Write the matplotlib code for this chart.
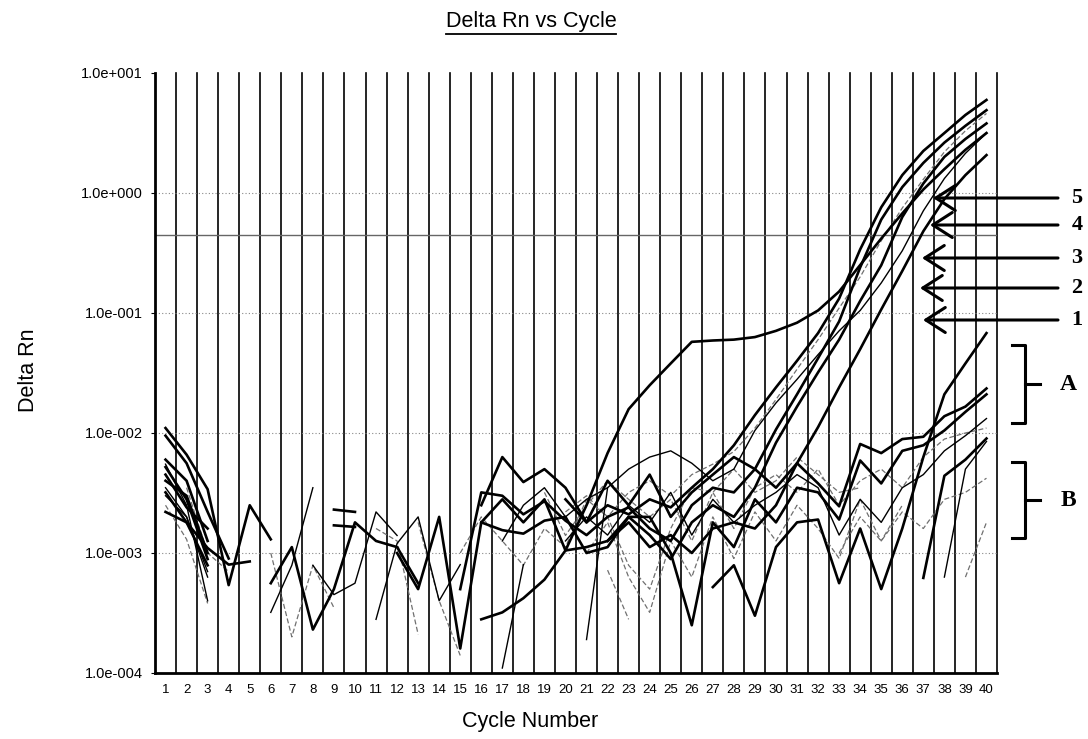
import numpy as np
import matplotlib
matplotlib.use("Agg")
import matplotlib.pyplot as plt
from matplotlib.lines import Line2D

nan = np.nan
cycles = np.arange(1, 41)

# Delta Rn per cycle (nan = no point drawn)
early = [1.1e-2, 6.6e-3, 3.4e-3, 5.4e-4, 2.5e-3, 1.3e-3, nan, nan, nan, nan,
         nan, nan, nan, nan, nan, 2.8e-4, 3.2e-4, 4.2e-4, 6.0e-4, 1.05e-3,
         2.5e-3, 6.8e-3, 1.58e-2, 2.5e-2, 3.8e-2, 5.75e-2, 5.9e-2, 6.0e-2, 6.3e-2, 7.1e-2,
         8.3e-2, 0.105, 0.151, 0.251, 0.417, 0.676, 1.07, 1.58, 2.29, 3.16]
amp1 = [6.0e-3, 4.0e-3, 1.26e-3, nan, nan, nan, nan, nan, nan, nan,
        nan, nan, nan, nan, nan, 2.5e-3, 6.3e-3, 3.9e-3, 5.0e-3, 3.5e-3,
        1.8e-3, 2.5e-3, 2.1e-3, 2.8e-3, 2.4e-3, 3.5e-3, 5.0e-3, 7.9e-3, 1.41e-2, 2.4e-2,
        4.0e-2, 6.8e-2, 0.132, 0.339, 0.76, 1.41, 2.24, 3.16, 4.47, 5.96]
amp2 = [5.2e-3, 2.8e-3, 8.9e-4, nan, nan, nan, nan, nan, nan, nan,
        nan, nan, nan, nan, 5.0e-4, 3.2e-3, 3.0e-3, 2.1e-3, 2.7e-3, 1.86e-3,
        1.41e-3, 2.0e-3, 2.4e-3, 1.6e-3, 1.26e-3, 2.5e-3, 3.5e-3, 3.2e-3, 5.0e-3, 1.07e-2,
        2.1e-2, 4.2e-2, 8.5e-2, 0.24, 0.60, 1.12, 1.78, 2.63, 3.63, 4.9]
amp3 = [4.5e-3, 2.4e-3, 1.6e-3, nan, nan, nan, nan, nan, nan, nan,
        nan, nan, nan, nan, nan, 1.8e-3, 1.55e-3, 1.45e-3, 1.86e-3, 2.0e-3,
        1.0e-3, 1.12e-3, 2.0e-3, 1.41e-3, 8.9e-4, 1.8e-3, 2.5e-3, 2.0e-3, 3.5e-3, 8.3e-3,
        1.66e-2, 3.2e-2, 6.0e-2, 0.126, 0.25, 0.63, 1.2, 2.0, 2.82, 3.8]
amp4 = [3.5e-3, 2.0e-3, 6.3e-4, nan, nan, nan, nan, nan, nan, nan,
        nan, nan, nan, nan, nan, nan, 1.26e-3, 2.5e-3, 3.5e-3, 2.0e-3,
        2.8e-3, 3.5e-3, 5.0e-3, 6.3e-3, 7.1e-3, 5.6e-3, 4.0e-3, 5.0e-3, 1.05e-2, 1.78e-2,
        2.8e-2, 4.5e-2, 7.1e-2, 0.105, 0.178, 0.33, 0.71, 1.32, 2.14, 3.16]
amp5 = [3.2e-3, 1.8e-3, 7.9e-4, nan, nan, nan, nan, nan, nan, nan,
        nan, 1.0e-3, 5.0e-4, 2.0e-3, 1.6e-4, 1.8e-3, 2.8e-3, 1.8e-3, 2.8e-3, 1.05e-3,
        1.12e-3, 1.26e-3, 1.8e-3, 1.12e-3, 1.41e-3, 1.0e-3, 1.6e-3, 1.8e-3, 1.6e-3, 2.5e-3,
        5.6e-3, 1.12e-2, 2.4e-2, 5.0e-2, 0.107, 0.224, 0.48, 0.89, 1.41, 2.07]
amp6 = [nan, nan, nan, nan, nan, nan, nan, nan, nan, nan,
        nan, nan, nan, nan, nan, nan, nan, nan, nan, 2.2e-3,
        3.0e-3, 2.0e-3, 3.2e-3, 4.0e-3, 3.0e-3, 4.5e-3, 5.5e-3, 7.0e-3, 1.1e-2, 1.9e-2,
        3.4e-2, 6.0e-2, 0.11, 0.2, 0.4, 0.75, 1.3, 2.2, 3.3, 4.6]

grpA1 = [2.2e-3, 1.8e-3, 1.1e-3, 8.0e-4, 8.5e-4, nan, nan, nan, nan, nan,
         nan, nan, nan, nan, nan, nan, nan, nan, nan, nan,
         nan, nan, nan, nan, nan, nan, 5.2e-4, 7.9e-4, 3.0e-4, 1.12e-3,
         1.8e-3, 1.9e-3, 5.6e-4, 1.6e-3, 5.0e-4, 1.6e-3, 6.3e-3, 2.1e-2, 3.8e-2, 6.8e-2]
grpA2 = [9.5e-3, 5.6e-3, 2.2e-3, 9.0e-4, nan, nan, nan, nan, nan, nan,
         nan, nan, nan, nan, nan, nan, nan, nan, nan, 2.8e-3,
         1.8e-3, 4.0e-3, 2.5e-3, 4.5e-3, 2.0e-3, 3.2e-3, 4.5e-3, 6.3e-3, 5.0e-3, 3.5e-3,
         5.6e-3, 3.8e-3, 2.45e-3, 8.1e-3, 6.8e-3, 8.9e-3, 9.3e-3, 1.38e-2, 1.66e-2, 2.35e-2]
grpA3 = [4.0e-3, 3.0e-3, 1.0e-3, nan, nan, nan, nan, nan, nan, nan,
         nan, nan, nan, nan, nan, nan, nan, nan, nan, nan,
         nan, 1.26e-3, 2.0e-3, 2.0e-3, 1.0e-3, 2.5e-4, 1.8e-3, 1.12e-3, 2.8e-3, 1.8e-3,
         3.5e-3, 3.2e-3, 1.9e-3, 5.9e-3, 3.8e-3, 7.1e-3, 7.9e-3, 1.05e-2, 1.5e-2, 2.1e-2]

grpB1 = [3.0e-3, 2.0e-3, 7.0e-4, nan, nan, nan, nan, nan, nan, nan,
         nan, nan, nan, nan, nan, nan, nan, nan, nan, 1.26e-3,
         2.0e-3, 1.41e-3, 2.5e-3, 1.8e-3, 3.2e-3, 1.41e-3, 2.8e-3, 1.8e-3, 2.5e-3, 3.2e-3,
         4.5e-3, 3.5e-3, 1.41e-3, 2.8e-3, 1.8e-3, 3.5e-3, 4.5e-3, 7.1e-3, 9.5e-3, 1.32e-2]
grpB2 = [2.5e-3, 1.3e-3, 3.8e-4, nan, nan, nan, nan, nan, nan, nan,
         nan, nan, nan, nan, 1.0e-3, 2.0e-3, 1.26e-3, 7.9e-4, 1.6e-3, 1.12e-3,
         2.8e-3, 2.0e-3, 7.9e-4, 5.0e-4, 1.6e-3, 3.5e-3, 3.2e-3, 1.6e-3, 3.5e-3, 4.5e-3,
         3.2e-3, 5.0e-3, 2.5e-3, 4.0e-3, 5.0e-3, 3.5e-3, 6.3e-3, 8.9e-3, 1.0e-2, 1.1e-2]
grpB3 = [nan] * 36 + [6.2e-4, 4.4e-3, 6.0e-3, 9.0e-3]
grpB4 = [nan] * 37 + [6.3e-4, 5.0e-3, 8.5e-3]
grpB5 = [nan] * 32 + [1.0e-3, 2.0e-3, 1.26e-3, 2.2e-3, 1.6e-3, 2.8e-3, 3.2e-3, 4.2e-3]
grpB6 = [nan] * 38 + [6.3e-4, 1.8e-3]

base1 = [nan] * 18 + [3.2e-3, 1.4e-3, 2.5e-3, 4.0e-3, 2.8e-3, 2.0e-3, 2.8e-3, 1.26e-3,
                      3.2e-3, 5.0e-3, 3.2e-3, 4.0e-3, 6.3e-3, 4.5e-3, 3.2e-3, 3.5e-3] + [nan] * 6
base2 = [nan] * 20 + [1.0e-3, 1.8e-3, 6.3e-4, 3.2e-4, 1.26e-3, 6.3e-4, 2.0e-3, 9.0e-4,
                      2.2e-3, 1.26e-3, 2.5e-3, 1.6e-3, 9.0e-4, 2.8e-3, 1.26e-3, 2.5e-3] + [nan] * 4

# short broken pieces, (first cycle, values)
frag_thick = [(6, [5.6e-4, 1.12e-3, 2.3e-4, 5.0e-4, 1.8e-3, 1.26e-3, 1.12e-3, 5.6e-4]),
              (9, [2.3e-3, 2.2e-3]),
              (9, [1.7e-3, 1.65e-3])]
frag_thin = [(6, [3.2e-4, 7.9e-4, 3.5e-3]),
             (8, [7.9e-4, 4.5e-4, 5.6e-4, 2.2e-3, 1.4e-3]),
             (11, [2.8e-4, 1.2e-3, 2.0e-3, 4.0e-4, 8.0e-4]),
             (17, [1.1e-4, 8.0e-4]),
             (21, [1.9e-4, 3.5e-3]),
             (1, [5.5e-3, 2.5e-3, 4.0e-4])]
frag_grey = [(6, [1.0e-3, 2.0e-4, 7.9e-4, 3.5e-4]),
             (11, [1.6e-3, 1.26e-3, 2.1e-4]),
             (13, [1.8e-3, 4.0e-4, 1.4e-4]),
             (22, [7.2e-4, 2.8e-4]),
             (2, [3.5e-3, 1.0e-3, 7.0e-4])]

threshold = 0.447
ytick_vals = [1e-4, 1e-3, 1e-2, 1e-1, 1e0, 1e1]
ytick_text = ["1.0e-004", "1.0e-003", "1.0e-002", "1.0e-001", "1.0e+000", "1.0e+001"]
arrow_labels = ["5", "4", "3", "2", "1"]

W, H = 1088, 739
fig = plt.figure(figsize=(W / 100, H / 100), dpi=100)
ax = fig.add_axes([155 / W, 1 - 673 / H, (997 - 155) / W, (673 - 73) / H])
ax.set_yscale("log")
ax.set_xlim(0.5, 40.5)
ax.set_ylim(1e-4, 1e1)

for x in np.arange(1.5, 41, 1.0):
    ax.axvline(x, color="black", lw=1.2, zorder=1, clip_on=False)
for y in [1e-3, 1e-2, 1e-1, 1e0]:
    ax.axhline(y, color="#888888", lw=0.8, ls=(0, (1, 2)), zorder=1)
ax.axhline(threshold, color="#666666", lw=1.0, zorder=1)

grey = dict(color="#707070", lw=0.9, ls=(0, (4, 2)), zorder=2)
thin = dict(color="black", lw=1.0, zorder=3)
thick = dict(color="black", lw=1.9, zorder=4)

for s in [amp6, grpB2, grpB5, grpB6, base1, base2]:
    ax.plot(cycles, s, **grey)
for start, vals in frag_grey:
    ax.plot(np.arange(start, start + len(vals)), vals, **grey)
for s in [amp4, grpB1, grpB4]:
    ax.plot(cycles, s, **thin)
for start, vals in frag_thin:
    ax.plot(np.arange(start, start + len(vals)), vals, **thin)
for s in [early, amp1, amp2, amp3, amp5, grpA1, grpA2, grpA3, grpB3]:
    ax.plot(cycles, s, **thick)
for start, vals in frag_thick:
    ax.plot(np.arange(start, start + len(vals)), vals, **thick)

ax.spines["top"].set_visible(False)
ax.spines["right"].set_visible(False)
ax.spines["left"].set_linewidth(2)
ax.spines["bottom"].set_linewidth(2)
ax.set_xticks(cycles)
ax.set_xticklabels([str(c) for c in cycles], fontsize=9.5, family="Liberation Sans")
ax.tick_params(axis="x", length=0, pad=8)
ax.yaxis.set_major_locator(matplotlib.ticker.FixedLocator(ytick_vals))
ax.yaxis.set_minor_locator(matplotlib.ticker.NullLocator())
ax.set_yticklabels(ytick_text, fontsize=10.5, family="Liberation Sans")
ax.tick_params(axis="y", length=3, width=0.8, pad=6)


def fx(px):
    return px / W


def fy(py):
    return 1 - py / H


title = fig.text(fx(531), fy(22), "Delta Rn vs Cycle", ha="center", va="center",
                 fontsize=15.5, family="Liberation Sans")
fig.text(fx(530), fy(722), "Cycle Number", ha="center", va="center",
         fontsize=15.5, family="Liberation Sans")
fig.text(fx(28), fy(370), "Delta Rn", ha="center", va="center", rotation=90,
         fontsize=15.5, family="Liberation Sans")

fig.canvas.draw()
bb = title.get_window_extent().transformed(fig.transFigure.inverted())
fig.add_artist(Line2D([bb.x0, bb.x1], [bb.y0 - 0.002, bb.y0 - 0.002],
                      transform=fig.transFigure, color="black", lw=1.3))

# arrows 5..1 and their numbers
arrow_y = [198, 225, 258, 288, 320]
arrow_tip = [933, 930, 922, 920, 923]
for lab, py, tip in zip(arrow_labels, arrow_y, arrow_tip):
    ax.annotate("", xy=(fx(tip), fy(py)), xytext=(fx(1058), fy(py)),
                xycoords="figure fraction", textcoords="figure fraction",
                arrowprops=dict(arrowstyle="->,head_length=0.7,head_width=0.45",
                                lw=2.2, color="black", mutation_scale=20,
                                shrinkA=0, shrinkB=0))
    fig.text(fx(1077), fy(py), lab, ha="center", va="center", fontsize=16,
             weight="bold", family="Liberation Serif")

# brackets A and B
for lab, top, bot in [("A", 345, 423), ("B", 462, 538)]:
    mid = (top + bot) / 2
    fig.add_artist(Line2D([fx(1012), fx(1025), fx(1025), fx(1012)],
                          [fy(top), fy(top), fy(bot), fy(bot)],
                          transform=fig.transFigure, color="black", lw=2.2))
    fig.add_artist(Line2D([fx(1025), fx(1040)], [fy(mid), fy(mid)],
                          transform=fig.transFigure, color="black", lw=2.2))
    fig.text(fx(1068), fy(mid), lab, ha="center", va="center", fontsize=17,
             weight="bold", family="Liberation Serif")

fig.savefig("out.png", dpi=100, facecolor="white")
